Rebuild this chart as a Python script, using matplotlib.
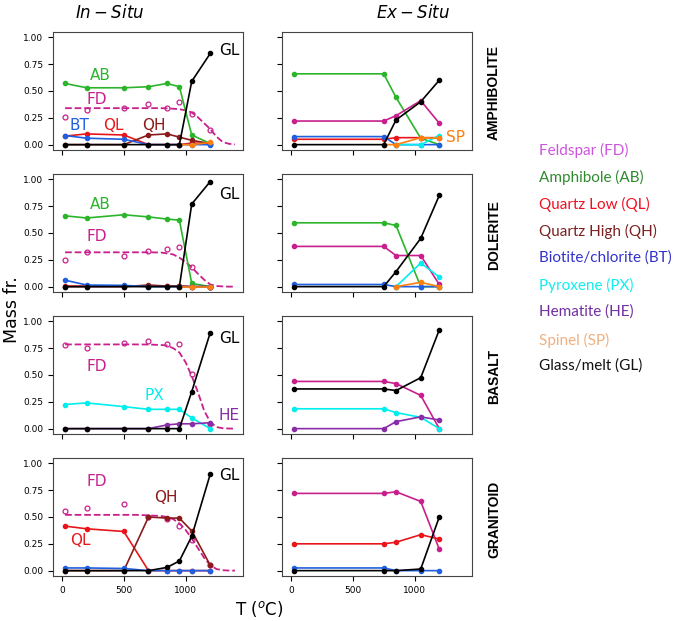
import numpy as np
import matplotlib
matplotlib.use("Agg")
import matplotlib.pyplot as plt

nan = np.nan

# temperatures (C)
T_IN = [25, 200, 500, 700, 850, 950, 1050, 1200]
T_EX = [25, 750, 850, 1050, 1200]
T_FIT = [25, 200, 400, 600, 700, 800, 850, 900, 950, 1000, 1050, 1100, 1150, 1200, 1250, 1300, 1350, 1400]

# amphibolite
AMPH_IN_AB = [0.57, 0.53, 0.53, 0.54, 0.57, 0.54, 0.09, 0.01]
AMPH_IN_QL = [0.08, 0.10, 0.09, 0.0, 0.0, 0.0, 0.015, 0.01]
AMPH_IN_QH = [0.0, 0.0, 0.0, 0.09, 0.10, 0.07, 0.04, 0.01]
AMPH_IN_BT = [0.085, 0.06, 0.05, 0.0, 0.0, 0.0, 0.0, 0.0]
AMPH_IN_SP = [nan, nan, nan, nan, nan, 0.0, 0.0, 0.02]
AMPH_IN_GL = [0.0, 0.0, 0.0, 0.0, 0.0, 0.0, 0.59, 0.85]
AMPH_IN_FD = [0.26, 0.32, 0.34, 0.38, 0.34, 0.40, 0.29, 0.14]
AMPH_FIT_FD = [0.34, 0.34, 0.34, 0.34, 0.34, 0.34, 0.338, 0.335, 0.33, 0.32, 0.30, 0.255,
               0.20, 0.145, 0.075, 0.025, 0.008, 0.002]
AMPH_EX_AB = [0.66, 0.66, 0.44, 0.06, 0.0]
AMPH_EX_FD = [0.22, 0.22, 0.27, 0.41, 0.20]
AMPH_EX_QL = [0.05, 0.05, 0.065, 0.065, 0.065]
AMPH_EX_BT = [0.075, 0.075, 0.0, 0.0, 0.0]
AMPH_EX_PX = [nan, nan, 0.0, 0.0, 0.085]
AMPH_EX_SP = [nan, 0.0, 0.0, 0.065, 0.06]
AMPH_EX_GL = [0.0, 0.0, 0.23, 0.40, 0.60]

# dolerite
DOL_IN_AB = [0.66, 0.64, 0.67, 0.65, 0.63, 0.62, 0.03, 0.0]
DOL_IN_QL = [0.005, 0.005, 0.005, 0.005, 0.005, 0.005, 0.0, 0.0]
DOL_IN_QH = [0.0, 0.0, 0.0, 0.015, 0.005, 0.005, 0.0, 0.0]
DOL_IN_BT = [0.06, 0.015, 0.012, 0.0, 0.0, 0.0, 0.0, 0.0]
DOL_IN_SP = [nan, nan, nan, nan, nan, 0.0, 0.0, 0.0]
DOL_IN_GL = [0.0, 0.0, 0.0, 0.0, 0.0, 0.0, 0.77, 0.98]
DOL_IN_FD = [0.25, 0.32, 0.29, 0.33, 0.35, 0.37, 0.18, 0.0]
DOL_FIT_FD = [0.32, 0.32, 0.32, 0.32, 0.32, 0.318, 0.31, 0.30, 0.27, 0.23, 0.18, 0.12,
              0.065, 0.02, 0.006, 0.002, 0.0, 0.0]
DOL_EX_AB = [0.595, 0.595, 0.57, 0.0, 0.0]
DOL_EX_FD = [0.375, 0.375, 0.29, 0.29, 0.02]
DOL_EX_BT = [0.02, 0.02, 0.0, 0.0, 0.0]
DOL_EX_PX = [nan, nan, 0.0, 0.22, 0.09]
DOL_EX_SP = [nan, nan, 0.0, 0.04, 0.0]
DOL_EX_GL = [0.0, 0.0, 0.14, 0.45, 0.85]

# basalt
BAS_IN_PX = [0.225, 0.24, 0.205, 0.18, 0.18, 0.18, 0.10, 0.0]
BAS_IN_HE = [0.0, 0.0, 0.0, 0.0, 0.035, 0.045, 0.045, 0.055]
BAS_IN_GL = [0.0, 0.0, 0.0, 0.0, 0.0, 0.0, 0.345, 0.895]
BAS_IN_FD = [0.78, 0.755, 0.795, 0.815, 0.79, 0.785, 0.51, 0.045]
BAS_FIT_FD = [0.785, 0.785, 0.785, 0.785, 0.784, 0.78, 0.775, 0.75, 0.71, 0.62, 0.49, 0.34,
              0.17, 0.06, 0.015, 0.004, 0.001, 0.0]
BAS_EX_FD = [0.44, 0.44, 0.42, 0.31, 0.0]
BAS_EX_PX = [0.185, 0.185, 0.15, 0.105, 0.0]
BAS_EX_HE = [0.0, 0.0, 0.065, 0.11, 0.08]
BAS_EX_GL = [0.37, 0.37, 0.355, 0.475, 0.92]

# granitoid
GRA_IN_QL = [0.415, 0.39, 0.365, 0.0, 0.0, 0.0, 0.0, 0.0]
GRA_IN_QH = [0.0, 0.0, 0.0, 0.50, 0.49, 0.49, 0.37, 0.05]
GRA_IN_BT = [0.025, 0.025, 0.02, 0.0, 0.0, 0.0, 0.0, 0.0]
GRA_IN_GL = [0.0, 0.0, 0.0, 0.0, 0.03, 0.09, 0.32, 0.90]
GRA_IN_FD = [0.555, 0.585, 0.62, 0.50, 0.48, 0.42, 0.29, 0.05]
GRA_FIT_FD = [0.52, 0.52, 0.52, 0.52, 0.515, 0.51, 0.50, 0.48, 0.44, 0.38, 0.30, 0.21,
              0.12, 0.05, 0.015, 0.004, 0.001, 0.0]
GRA_EX_FD = [0.72, 0.72, 0.735, 0.645, 0.20]
GRA_EX_QL = [0.25, 0.25, 0.265, 0.335, 0.295]
GRA_EX_BT = [0.025, 0.025, 0.0, 0.0, 0.0]
GRA_EX_GL = [0.0, 0.0, 0.0, 0.015, 0.50]

ROCKS = ["AMPHIBOLITE", "DOLERITE", "BASALT", "GRANITOID"]
LEGEND_LABELS = ["Feldspar (FD)", "Amphibole (AB)", "Quartz Low (QL)", "Quartz High (QH)",
                 "Biotite/chlorite (BT)", "Pyroxene (PX)", "Hematite (HE)", "Spinel (SP)",
                 "Glass/melt (GL)"]

# colours
FD_C = "#c91f8c"
AB_C = "#2cb52c"
QL_C = "#e8161b"
QH_C = "#8b1a1a"
BT_C = "#1f5fe0"
PX_C = "#00eeee"
HE_C = "#8a2ca8"
SP_C = "#ff7f0e"
GL_C = "black"
LEGEND_COLORS = ["#cc55dd", "#2e8b2e", "#ee1122", "#7a2020", "#3333cc", "#11eeee",
                 "#7030a0", "#f0b080", "#111111"]

W, H = 685, 621
fig = plt.figure(figsize=(6.85, 6.21), dpi=100)


def box(x0, y0, x1, y1):
    return [x0 / W, 1 - y1 / H, (x1 - x0) / W, (y1 - y0) / H]


def fx(px):
    return px / W


def fy(py):
    return 1 - py / H


def line(ax, t, v, c):
    ax.plot(t, v, "-o", color=c, lw=1.2, ms=3)


def fd_in(ax, pts, fit):
    ax.plot(T_FIT, fit, "--", color=FD_C, lw=1.3)
    ax.plot(T_IN, pts, "o", mfc="none", mec=FD_C, ms=3.5, mew=0.9)


rows = [(32, 150), (174, 292), (316, 434), (458, 576)]
axes = []
for i, (top, bot) in enumerate(rows):
    a_in = fig.add_axes(box(53, top, 243, bot))
    a_ex = fig.add_axes(box(282, top, 472, bot))
    for a in (a_in, a_ex):
        a.set_xlim(-73, 1465)
        a.set_ylim(-0.05, 1.05)
        a.set_xticks([0, 500, 1000])
        a.set_yticks([0, 0.25, 0.5, 0.75, 1.0])
        a.tick_params(labelsize=6.5, length=3.5, width=0.8)
        for s in a.spines.values():
            s.set_linewidth(0.8)
            s.set_color("#444444")
    a_in.set_yticklabels(["0.00", "0.25", "0.50", "0.75", "1.00"])
    a_ex.set_yticklabels([])
    if i < 3:
        a_in.set_xticklabels([])
        a_ex.set_xticklabels([])
    axes.append((a_in, a_ex))

lab = dict(fontsize=11, ha="center", va="center")

# amphibolite
ax, bx = axes[0]
fd_in(ax, AMPH_IN_FD, AMPH_FIT_FD)
line(ax, T_IN, AMPH_IN_AB, AB_C)
line(ax, T_IN, AMPH_IN_QL, QL_C)
line(ax, T_IN, AMPH_IN_QH, QH_C)
line(ax, T_IN, AMPH_IN_BT, BT_C)
line(ax, T_IN, AMPH_IN_SP, SP_C)
line(ax, T_IN, AMPH_IN_GL, GL_C)
ax.text(306, 0.64, "AB", color=AB_C, **lab)
ax.text(282, 0.42, "FD", color=FD_C, **lab)
ax.text(137, 0.18, "BT", color=BT_C, **lab)
ax.text(419, 0.18, "QL", color=QL_C, **lab)
ax.text(742, 0.18, "QH", color=QH_C, **lab)
ax.text(1355, 0.88, "GL", color=GL_C, **lab)
line(bx, T_EX, AMPH_EX_AB, AB_C)
line(bx, T_EX, AMPH_EX_FD, FD_C)
line(bx, T_EX, AMPH_EX_QL, QL_C)
line(bx, T_EX, AMPH_EX_BT, BT_C)
line(bx, T_EX, AMPH_EX_PX, PX_C)
line(bx, T_EX, AMPH_EX_SP, SP_C)
line(bx, T_EX, AMPH_EX_GL, GL_C)
bx.text(1333, 0.065, "SP", color=SP_C, **lab)

# dolerite
ax, bx = axes[1]
fd_in(ax, DOL_IN_FD, DOL_FIT_FD)
line(ax, T_IN, DOL_IN_AB, AB_C)
line(ax, T_IN, DOL_IN_QL, QL_C)
line(ax, T_IN, DOL_IN_QH, QH_C)
line(ax, T_IN, DOL_IN_BT, BT_C)
line(ax, T_IN, DOL_IN_SP, SP_C)
line(ax, T_IN, DOL_IN_GL, GL_C)
ax.text(306, 0.77, "AB", color=AB_C, **lab)
ax.text(282, 0.47, "FD", color=FD_C, **lab)
ax.text(1355, 0.86, "GL", color=GL_C, **lab)
line(bx, T_EX, DOL_EX_AB, AB_C)
line(bx, T_EX, DOL_EX_FD, FD_C)
line(bx, T_EX, DOL_EX_BT, BT_C)
line(bx, T_EX, DOL_EX_PX, PX_C)
line(bx, T_EX, DOL_EX_SP, SP_C)
line(bx, T_EX, DOL_EX_GL, GL_C)

# basalt
ax, bx = axes[2]
fd_in(ax, BAS_IN_FD, BAS_FIT_FD)
line(ax, T_IN, BAS_IN_PX, PX_C)
line(ax, T_IN, BAS_IN_HE, HE_C)
line(ax, T_IN, BAS_IN_GL, GL_C)
ax.text(282, 0.58, "FD", color=FD_C, **lab)
ax.text(750, 0.31, "PX", color=PX_C, **lab)
ax.text(1355, 0.12, "HE", color=HE_C, **lab)
ax.text(1355, 0.84, "GL", color=GL_C, **lab)
line(bx, T_EX, BAS_EX_FD, FD_C)
line(bx, T_EX, BAS_EX_PX, PX_C)
line(bx, T_EX, BAS_EX_HE, HE_C)
line(bx, T_EX, BAS_EX_GL, GL_C)

# granitoid
ax, bx = axes[3]
fd_in(ax, GRA_IN_FD, GRA_FIT_FD)
line(ax, T_IN, GRA_IN_QL, QL_C)
line(ax, T_IN, GRA_IN_QH, QH_C)
line(ax, T_IN, GRA_IN_BT, BT_C)
line(ax, T_IN, GRA_IN_GL, GL_C)
ax.text(282, 0.83, "FD", color=FD_C, **lab)
ax.text(839, 0.68, "QH", color=QH_C, **lab)
ax.text(145, 0.28, "QL", color=QL_C, **lab)
ax.text(1355, 0.89, "GL", color=GL_C, **lab)
line(bx, T_EX, GRA_EX_FD, FD_C)
line(bx, T_EX, GRA_EX_QL, QL_C)
line(bx, T_EX, GRA_EX_BT, BT_C)
line(bx, T_EX, GRA_EX_GL, GL_C)

# rock names
for (top, bot), name in zip(rows, ROCKS):
    fig.text(fx(494), fy((top + bot) / 2 + 2), name, rotation=90, ha="center", va="center",
             fontsize=10, fontweight="bold", family="Liberation Sans")

# titles and axis labels
fig.text(fx(110), fy(13), r"$In-Situ$", fontsize=12, ha="center", va="center")
fig.text(fx(413), fy(13), r"$Ex-Situ$", fontsize=12, ha="center", va="center")
fig.text(fx(259), fy(609), r"T ($^o$C)", fontsize=12, ha="center", va="center")
fig.text(fx(12), fy(310), "Mass fr.", fontsize=12.5, rotation=90, ha="center", va="center")

# legend as coloured text
leg_y = [150, 177, 204, 231, 258, 285, 312, 340, 366]
for yy, txt, c in zip(leg_y, LEGEND_LABELS, LEGEND_COLORS):
    fig.text(fx(539), fy(yy), txt, color=c, fontsize=11, family="Lato",
             ha="left", va="center")

fig.savefig("out.png", dpi=100)
